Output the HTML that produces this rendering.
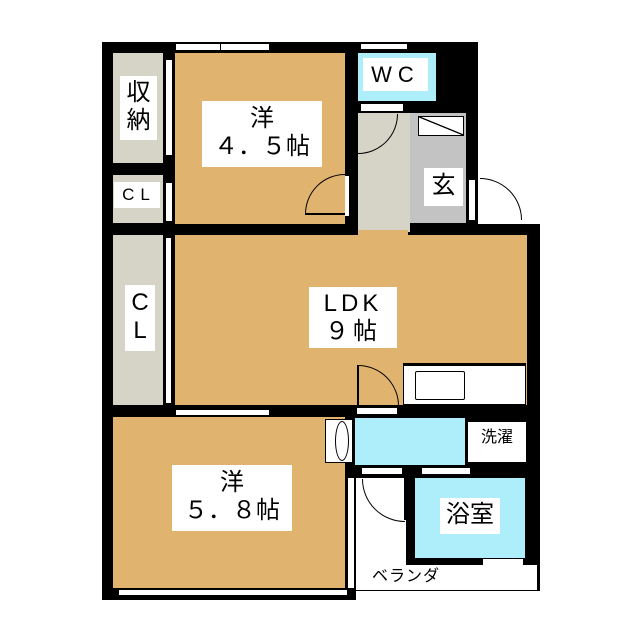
<!DOCTYPE html>
<html><head><meta charset="utf-8"><style>
body{margin:0;width:640px;height:640px;background:#fff;position:relative;overflow:hidden;font-family:"Liberation Sans","Noto Sans CJK JP",sans-serif}
div{position:absolute;box-sizing:border-box}
.b{background:#000}.o{background:#e0b46e}.g{background:#d6d3c7}.c{background:#aeeefa}.w{background:#fff}
.l{background:#fff;text-align:center;color:#000;line-height:1.15}
</style></head><body>
<div class="b" style="left:102px;top:42px;width:376px;height:193px"></div>
<div class="b" style="left:102px;top:224px;width:438px;height:376px"></div>
<div class="g" style="left:113px;top:53px;width:50px;height:110px"></div>
<div class="l" style="left:120px;top:76px;width:37px;height:64px;font-size:24px;padding-top:3px">収<br>納</div>
<div class="g" style="left:113px;top:175px;width:50px;height:48px"></div>
<div class="l" style="left:114px;top:182px;width:46px;height:26px;font-size:17px;letter-spacing:6px;padding-top:3px;padding-left:4px">CL</div>
<div class="w" style="left:166px;top:60px;width:6px;height:95px"></div>
<div class="w" style="left:166px;top:183px;width:6px;height:38px"></div>
<div class="o" style="left:175px;top:53px;width:170px;height:171px"></div>
<div class="w" style="left:175px;top:43px;width:95px;height:8px;border:1px solid #000"></div>
<div class="b" style="left:220px;top:42px;width:1px;height:10px"></div>
<div class="l" style="left:202px;top:101px;width:120px;height:66px;font-size:24px;padding-top:4px">洋<br>４．５帖</div>
<div style="left:305px;top:174px;width:80px;height:80px;border:1.5px solid #000;border-radius:50%;clip-path:inset(0 40px 40px 0)"></div>
<div class="b" style="left:305px;top:213px;width:40px;height:1.5px"></div>
<div style="left:345px;top:176px;width:4px;height:40px;background:#fff"></div>
<div class="c" style="left:358px;top:53px;width:78px;height:48px"></div>
<div class="w" style="left:360px;top:43px;width:48px;height:7px;border:1px solid #000"></div>
<div class="l" style="left:363px;top:58px;width:65px;height:33px;font-size:22px;letter-spacing:6px;padding-top:4px">WC</div>
<div class="g" style="left:358px;top:113px;width:52px;height:119px"></div>
<div class="w" style="left:361px;top:104px;width:42px;height:7px"></div>
<div style="left:318px;top:74px;width:80px;height:80px;border:1.5px solid #000;border-radius:50%;clip-path:inset(40px 0 0 40px)"></div>
<div style="left:410px;top:113px;width:56px;height:110px;background:#c3c3c3"></div>
<div class="w" style="left:418px;top:116px;width:46px;height:20px;border:1.5px solid #000;background:linear-gradient(to top right,#fff 48%,#000 49%,#000 52%,#fff 53%)"></div>
<div class="l" style="left:424px;top:168px;width:39px;height:38px;font-size:24px;padding-top:4px">玄</div>
<div class="w" style="left:478px;top:168px;width:62px;height:56px"></div>
<div style="left:438px;top:178px;width:84px;height:84px;border:1.5px solid #000;border-radius:50%;clip-path:inset(0 0 42px 42px)"></div>
<div class="w" style="left:469px;top:180px;width:6px;height:40px"></div>
<div class="g" style="left:113px;top:235px;width:50px;height:170px"></div>
<div class="l" style="left:125px;top:285px;width:30px;height:66px;font-size:24px;padding-top:4px">C<br>L</div>
<div class="w" style="left:165px;top:238px;width:7px;height:165px;border-left:1px solid #000;border-right:1px solid #000"></div>
<div class="o" style="left:175px;top:235px;width:352px;height:170px"></div>
<div class="o" style="left:358px;top:230px;width:50px;height:6px"></div>
<div class="l" style="left:309px;top:287px;width:88px;height:61px;font-size:24px;letter-spacing:4px;padding-top:3px">LDK<br>９帖</div>
<div class="w" style="left:403px;top:363px;width:123px;height:42px;border:1.5px solid #000;border-top-width:3px"></div>
<div class="w" style="left:415px;top:371px;width:50px;height:29px;border:1.5px solid #000;border-radius:2px"></div>
<div style="left:317px;top:365px;width:82px;height:82px;border:1.5px solid #000;border-radius:50%;clip-path:inset(0 0 41px 41px)"></div>
<div class="b" style="left:357px;top:365px;width:1.5px;height:41px"></div>
<div class="w" style="left:357px;top:408px;width:40px;height:6px"></div>
<div class="w" style="left:175px;top:409px;width:95px;height:7px;border:1px solid #000"></div>
<div class="o" style="left:113px;top:417px;width:232px;height:171px"></div>
<div class="l" style="left:172px;top:465px;width:120px;height:66px;font-size:24px;padding-top:4px">洋<br>５．８帖</div>
<div class="w" style="left:118px;top:589px;width:230px;height:7px;border:1px solid #000"></div>
<div class="w" style="left:325px;top:419px;width:28px;height:44px;border:1px solid #000"></div>
<div class="w" style="left:335px;top:421px;width:14px;height:40px;border:1.5px solid #000;border-radius:50%"></div>
<div class="c" style="left:355px;top:418px;width:110px;height:47px"></div>
<div class="w" style="left:467px;top:421px;width:60px;height:42px;border:1.5px solid #000"></div>
<div class="l" style="left:472px;top:429px;width:50px;height:24px;font-size:16px">洗濯</div>
<div class="w" style="left:356px;top:478px;width:50px;height:112px"></div>
<div class="w" style="left:347px;top:478px;width:8px;height:110px;border-left:1px solid #000;border-right:1px solid #000"></div>
<div style="left:362px;top:436px;width:86px;height:86px;border:1.5px solid #000;border-radius:50%;clip-path:inset(43px 43px 0 0)"></div>
<div class="b" style="left:404px;top:478px;width:1.5px;height:42px"></div>
<div class="w" style="left:362px;top:468px;width:40px;height:6px"></div>
<div class="w" style="left:422px;top:468px;width:48px;height:6px"></div>
<div class="c" style="left:415px;top:478px;width:110px;height:80px"></div>
<div class="l" style="left:440px;top:498px;width:60px;height:36px;font-size:24px;padding-top:3px;background:#fff">浴室</div>
<div class="w" style="left:356px;top:565px;width:182px;height:25px;border-right:1px solid #000"></div>
<div class="w" style="left:483px;top:559px;width:40px;height:6px"></div>
<div style="left:372px;top:562px;font-size:16px;color:#000;letter-spacing:1px">ベランダ</div>
<div class="w" style="left:356px;top:590px;width:184px;height:12px;border-top:1px solid #000"></div>
</body></html>
